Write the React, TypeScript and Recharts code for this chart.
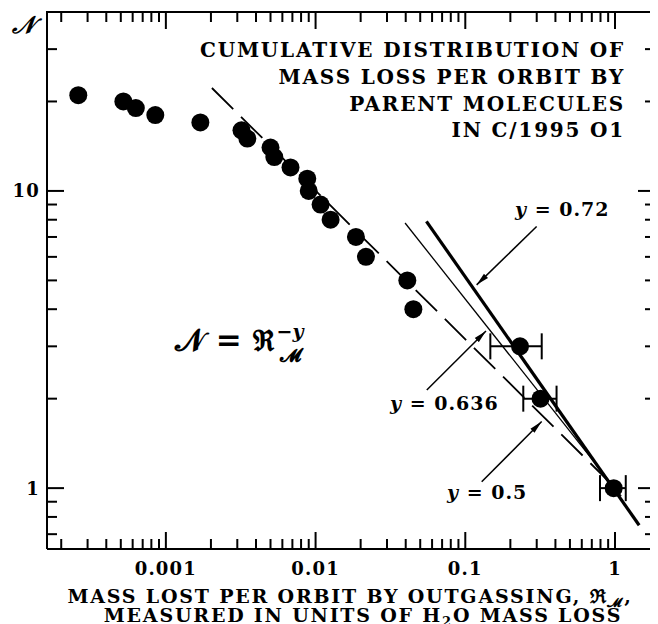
import { ScatterChart, Scatter, XAxis, YAxis, ErrorBar, ReferenceLine } from 'recharts';

const FONT = '"DejaVu Serif", serif';

// cumulative number of parent molecules vs. their mass loss per orbit (H2O = 1)
const massLoss = [0.00026, 0.00052, 0.00063, 0.00085, 0.0017, 0.0032, 0.0035, 0.005, 0.0053, 0.0068, 0.0088, 0.009, 0.0108, 0.0126, 0.0186, 0.0217, 0.041, 0.045];
const cumulative = [21, 20, 19, 18, 17, 16, 15, 14, 13, 12, 11, 10, 9, 8, 7, 6, 5, 4];

// the three largest contributors carry error bars
const bigLoss = [0.232, 0.318, 0.98];
const bigLossLow = [0.147, 0.244, 0.794];
const bigLossHigh = [0.324, 0.407, 1.18];
const bigCumulative = [3, 2, 1];

// fitted power laws N = R^-y, end points
const fitExponents = [0.5, 0.636, 0.72];
const fitStart = [[0.00203, 22.2], [0.0396, 7.8], [0.055, 7.9]];
const fitEnd = [[0.95, 1.03], [1.1, 0.94], [1.45, 0.75]];
const fitStyle = [
  { strokeWidth: 1.8, strokeDasharray: '30 11' },
  { strokeWidth: 1.3 },
  { strokeWidth: 3.2 },
];

// arrows from the labels to the lines: [from, to]
const arrows = [
  [[0.2996, 7.59], [0.1191, 4.83]],
  [[0.0553, 2.14], [0.1375, 3.38]],
  [[0.1287, 1.05], [0.3236, 1.675]],
];

const xDomain = [0.0001607, 1.85];
const yDomain = [0.624, 40];
const xMajor = [0.001, 0.01, 0.1, 1];
const yMajor = [1, 10];
const xTicks = [0.0001, 0.001, 0.01, 0.1, 1]
  .flatMap((d) => [2, 3, 4, 5, 6, 7, 8, 9].map((m) => +(d * m).toPrecision(3)))
  .concat(xMajor)
  .filter((v) => v > xDomain[0] && v < xDomain[1]);
const yTicks = [0.7, 0.8, 0.9, 1, 2, 3, 4, 5, 6, 7, 8, 9, 10, 20, 30];

const points = massLoss.map((x, i) => ({ x, n: cumulative[i] }));
const bigPoints = bigLoss.map((x, i) => ({
  x,
  n: bigCumulative[i],
  err: [x - bigLossLow[i], bigLossHigh[i] - x],
}));

// plot box (chart coordinates)
const CHART_W = 650;
const CHART_H = 616;
const MARGIN = { top: 4, right: 3, left: 0, bottom: 0 };
const Y_AXIS_W = 39;
const X_AXIS_H = 75;
const PLOT_LEFT = MARGIN.left + Y_AXIS_W;
const PLOT_TOP = MARGIN.top;
const PLOT_RIGHT = CHART_W - MARGIN.right;
const PLOT_BOTTOM = CHART_H - MARGIN.bottom - X_AXIS_H;

// same log mapping as the chart axes, for the mirrored ticks on top/right
const xPos = (v: number) =>
  PLOT_LEFT + ((Math.log10(v) - Math.log10(xDomain[0])) / (Math.log10(xDomain[1]) - Math.log10(xDomain[0]))) * (PLOT_RIGHT - PLOT_LEFT);
const yPos = (v: number) =>
  PLOT_BOTTOM - ((Math.log10(v) - Math.log10(yDomain[0])) / (Math.log10(yDomain[1]) - Math.log10(yDomain[0]))) * (PLOT_BOTTOM - PLOT_TOP);

const tickText = { fontFamily: FONT, fontWeight: 'bold' as const, fontSize: 18, letterSpacing: 1.2, fill: '#000' };

const XTick = (props: any) => {
  const { x, y, payload } = props;
  const len = xMajor.includes(payload.value) ? 17 : 10;
  return (
    <g>
      <line x1={x} x2={x} y1={y} y2={y - len} stroke="#000" strokeWidth={2} />
      {len === 17 && (
        <text x={x} y={y + 26} textAnchor="middle" {...tickText}>
          {String(payload.value)}
        </text>
      )}
    </g>
  );
};

const YTick = (props: any) => {
  const { x, y, payload } = props;
  const len = yMajor.includes(payload.value) ? 17 : 10;
  return (
    <g>
      <line x1={x} x2={x + len} y1={y} y2={y} stroke="#000" strokeWidth={2} />
      {len === 17 && (
        <text x={x - 7} y={y + 6.5} textAnchor="end" {...tickText}>
          {String(payload.value)}
        </text>
      )}
    </g>
  );
};

const noShape = () => <g />;
const dot = (p: any) => <circle cx={p.cx} cy={p.cy} r={9} fill="#000" />;

// top and right edges with their inward ticks, laid over the chart
function Frame() {
  return (
    <>
      <div
        style={{
          position: 'absolute',
          left: PLOT_LEFT - 1,
          top: PLOT_TOP - 1,
          width: PLOT_RIGHT - PLOT_LEFT,
          height: PLOT_BOTTOM - PLOT_TOP,
          borderTop: '2px solid #000',
          borderRight: '2px solid #000',
          pointerEvents: 'none',
        }}
      />
      <svg
        width={CHART_W}
        height={CHART_H}
        style={{ position: 'absolute', left: 0, top: 0, pointerEvents: 'none', zIndex: 2 }}
      >
        {xTicks.map((v) => {
          const len = xMajor.includes(v) ? 17 : 10;
          return <line key={`xt-${v}`} x1={xPos(v)} x2={xPos(v)} y1={PLOT_TOP} y2={PLOT_TOP + len} stroke="#000" strokeWidth={2} />;
        })}
        {yTicks.map((v) => {
          const len = yMajor.includes(v) ? 17 : 10;
          return <line key={`yt-${v}`} x1={PLOT_RIGHT} x2={PLOT_RIGHT - len} y1={yPos(v)} y2={yPos(v)} stroke="#000" strokeWidth={2} />;
        })}
      </svg>
    </>
  );
}

export default function App() {
  const txt = { fontFamily: FONT, fontWeight: 'bold' as const, fill: '#000' };
  return (
    <div style={{ position: 'relative', width: CHART_W, height: CHART_H }}>
      <ScatterChart width={CHART_W} height={CHART_H} margin={MARGIN}>
        <defs>
          <marker id="arrowHead" viewBox="0 0 13 7" refX="13" refY="3.5" markerWidth="13" markerHeight="7" markerUnits="userSpaceOnUse" orient="auto">
            <path d="M0,0.6 L13,3.5 L0,6.4 z" fill="#000" />
          </marker>
        </defs>
        <XAxis
          dataKey="x"
          type="number"
          scale="log"
          domain={xDomain}
          allowDataOverflow
          ticks={xTicks}
          interval={0}
          tickSize={0}
          tickMargin={0}
          height={X_AXIS_H}
          axisLine={{ stroke: '#000', strokeWidth: 2 }}
          tick={<XTick />}
        />
        <YAxis
          dataKey="n"
          type="number"
          scale="log"
          domain={yDomain}
          allowDataOverflow
          ticks={yTicks}
          interval={0}
          tickSize={0}
          tickMargin={0}
          width={Y_AXIS_W}
          axisLine={{ stroke: '#000', strokeWidth: 2 }}
          tick={<YTick />}
        />

        {fitExponents.map((e, i) => (
          <Scatter
            key={`fit-${e}`}
            data={[
              { x: fitStart[i][0], n: fitStart[i][1] },
              { x: fitEnd[i][0], n: fitEnd[i][1] },
            ]}
            line={{ stroke: '#000', ...fitStyle[i] }}
            shape={noShape}
            isAnimationActive={false}
          />
        ))}

        <Scatter data={points} fill="#000" shape={dot} isAnimationActive={false} />
        <Scatter data={bigPoints} fill="#000" shape={dot} isAnimationActive={false}>
          <ErrorBar dataKey="err" direction="x" width={13} stroke="#000" strokeWidth={2} isAnimationActive={false} />
        </Scatter>

        {arrows.map((a, i) => (
          <ReferenceLine
            key={`arrow-${i}`}
            segment={[{ x: a[0][0], y: a[0][1] }, { x: a[1][0], y: a[1][1] }]}
            stroke="#000"
            strokeWidth={1.5}
            markerEnd="url(#arrowHead)"
          />
        ))}

        <text x={4} y={25} fontFamily={FONT} fontStyle="italic" fontWeight="bold" fontSize={24} fill="#000">𝒩</text>

        <g {...txt} fontSize={20} letterSpacing={1.8} textAnchor="end">
          <text x={617} y={49}>CUMULATIVE DISTRIBUTION OF</text>
          <text x={617} y={76}>MASS LOSS PER ORBIT BY</text>
          <text x={617} y={102.5}>PARENT MOLECULES</text>
          <text x={617} y={129}>IN C/1995 O1</text>
        </g>

        <text x={167} y={343} {...txt} fontSize={31}>
          𝒩 = ℜ
          <tspan dx={2} dy={-13} fontSize={19}>−<tspan fontStyle="italic">y</tspan></tspan>
          <tspan dx={-24} dy={24} fontSize={19}>𝓜</tspan>
        </text>

        <g {...txt} fontSize={19} letterSpacing={1}>
          <text x={507} y={208}><tspan fontStyle="italic">y</tspan> = 0.72</text>
          <text x={382} y={402}><tspan fontStyle="italic">y</tspan> = 0.636</text>
          <text x={439} y={491}><tspan fontStyle="italic">y</tspan> = 0.5</text>
        </g>

        <g {...txt} fontSize={19} letterSpacing={1.8} textAnchor="middle">
          <text x={342} y={594.5}>
            MASS LOST PER ORBIT BY OUTGASSING, ℜ<tspan dy={4} fontSize={13}>𝓜</tspan><tspan dy={-4}>,</tspan>
          </text>
          <text x={355} y={613.5}>
            MEASURED IN UNITS OF H<tspan dy={4} fontSize={13}>2</tspan><tspan dy={-4}>O MASS LOSS</tspan>
          </text>
        </g>
      </ScatterChart>
      <Frame />
    </div>
  );
}
